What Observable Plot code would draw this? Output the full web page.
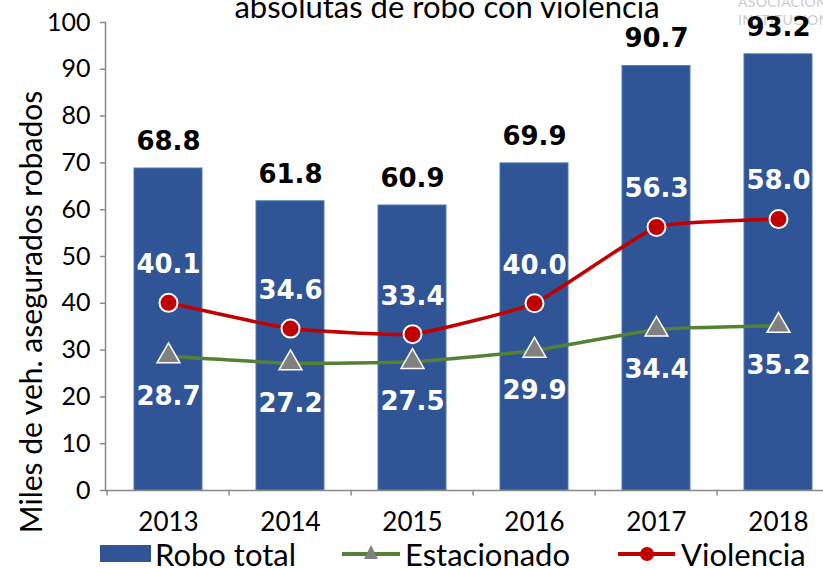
<!DOCTYPE html>
<html>
<head>
<meta charset="utf-8">
<script src="https://cdn.jsdelivr.net/npm/d3@7"></script>
<script src="https://cdn.jsdelivr.net/npm/@observablehq/plot@0.6"></script>
<style>
  html, body { margin: 0; padding: 0; background: white; overflow: hidden; }
  #wrap { position: relative; width: 823px; height: 568px; font-family: Lato, "Open Sans", sans-serif; overflow: hidden; }
  #wm { position: absolute; left: 738px; top: -7px; color: #cbcbcb; font-size: 14px; line-height: 18px; letter-spacing: 0.3px; z-index: 0; }
  #chart { position: absolute; left: 0; top: 0; z-index: 1; }
  #title { position: absolute; left: 0; width: 894px; top: -13px; text-align: center; font-size: 31px; color: #000; z-index: 2; white-space: nowrap; }
  #ylabel { position: absolute; left: 30px; top: 312px; transform: translate(-50%, -50%) rotate(-90deg); font-size: 30px; white-space: nowrap; color: #000; z-index: 2; }
  #legend { position: absolute; left: 0; top: 540px; width: 823px; height: 28px; z-index: 2; }
  .li { position: absolute; top: 0; display: flex; align-items: center; font-size: 31px; height: 28px; line-height: 28px; }
</style>
</head>
<body>
<div id="wrap">
  <div id="wm">ASOCIACIÓN<br>INSTITUCIONES</div>
  <div id="chart"></div>
  <div id="title">absolutas de robo con violencia</div>
  <div id="ylabel">Miles de veh. asegurados robados</div>
  <div id="legend"></div>
</div>
<script>
const years = ["2013", "2014", "2015", "2016", "2017", "2018"];
const roboTotal = [68.8, 61.8, 60.9, 69.9, 90.7, 93.2];
const estacionado = [28.7, 27.2, 27.5, 29.9, 34.4, 35.2];
const violencia = [40.1, 34.6, 33.4, 40.0, 56.3, 58.0];
const yTicks = [0, 10, 20, 30, 40, 50, 60, 70, 80, 90, 100];
const seriesNames = ["Robo total", "Estacionado", "Violencia"];
const colors = { total: "#2F5597", est: "#548235", vio: "#C00000", tri: "#808080", axis: "#898989" };

const data = years.map((year, i) => ({ year, total: roboTotal[i], est: estacionado[i], vio: violencia[i] }));
const fmt = v => v.toFixed(1);
const labelFont = "'DejaVu Sans', sans-serif";

const chart = Plot.plot({
  width: 823,
  height: 568,
  marginTop: 22,
  marginBottom: 78,
  marginLeft: 105,
  marginRight: 0,
  style: { background: "transparent", fontFamily: "Lato, sans-serif", overflow: "hidden" },
  x: { domain: years, range: [105, 842], paddingInner: 0.44, paddingOuter: 0.22, axis: null },
  y: { domain: [0, 100], axis: null },
  marks: [
    Plot.barY(data, { x: "year", y: "total", fill: colors.total, stroke: "#5478b8", strokeWidth: 1 }),
    Plot.ruleY([0], { stroke: colors.axis, strokeWidth: 1.5 }),
    Plot.frame({ anchor: "left", stroke: colors.axis, strokeWidth: 1.5 }),
    Plot.axisY({ ticks: yTicks, tickSize: 5, tickPadding: 10, fontSize: 25, stroke: colors.axis, strokeWidth: 1.5, fill: "#000", label: null }),
    Plot.axisX({ tickSize: 0, tickPadding: 22, fontSize: 26, fill: "#000", label: null }),
    Plot.ruleX(years, { x: d => d, y1: 0, y2: -1.2, dx: -61.4, stroke: colors.axis, strokeWidth: 1.5 }),
    Plot.line(data, { x: "year", y: "est", stroke: colors.est, strokeWidth: 3.5, curve: "cardinal", tension: 0.6 }),
    Plot.dot(data, { x: "year", y: "est", symbol: "triangle", fill: colors.tri, stroke: "white", strokeWidth: 1.5, r: 8.5 }),
    Plot.line(data, { x: "year", y: "vio", stroke: colors.vio, strokeWidth: 3.5, curve: "cardinal", tension: 0.6 }),
    Plot.dot(data, { x: "year", y: "vio", symbol: "circle", fill: colors.vio, stroke: "white", strokeWidth: 2, r: 9 }),
    Plot.text(data, { x: "year", y: "total", text: d => fmt(d.total), dy: -27, fontSize: 26, fontWeight: "bold", fill: "#000", fontFamily: labelFont }),
    Plot.text(data, { x: "year", y: "vio", text: d => fmt(d.vio), dy: -38, fontSize: 26, fontWeight: "bold", fill: "white", fontFamily: labelFont }),
    Plot.text(data, { x: "year", y: "est", text: d => fmt(d.est), dy: 40, fontSize: 26, fontWeight: "bold", fill: "white", fontFamily: labelFont })
  ]
});
document.getElementById("chart").appendChild(chart);

// Legend
const legend = document.getElementById("legend");
const items = [
  { name: seriesNames[0], left: 100, icon: `<svg width="52" height="28"><rect x="0" y="5" width="51" height="17" fill="${colors.total}"/></svg>` },
  { name: seriesNames[1], left: 342, icon: `<svg width="60" height="28"><line x1="0" x2="58" y1="14" y2="14" stroke="${colors.est}" stroke-width="4"/><path d="M29,5 L36,19 L22,19 Z" fill="${colors.tri}"/></svg>` },
  { name: seriesNames[2], left: 618, icon: `<svg width="60" height="28"><line x1="0" x2="57" y1="14" y2="14" stroke="${colors.vio}" stroke-width="4"/><circle cx="29" cy="14" r="7" fill="${colors.vio}"/></svg>` }
];
items.forEach(it => {
  const d = document.createElement("div");
  d.className = "li";
  d.style.left = it.left + "px";
  d.innerHTML = it.icon + `<span style="margin-left:3px">${it.name}</span>`;
  legend.appendChild(d);
});
</script>
</body>
</html>
